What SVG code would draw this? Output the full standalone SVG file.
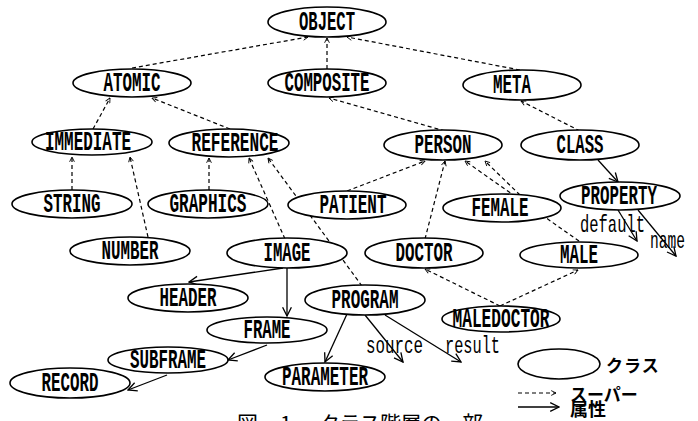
<svg xmlns="http://www.w3.org/2000/svg" width="698" height="421" viewBox="0 0 698 421">
<style>
.n ellipse{fill:#fff;stroke:#000;stroke-width:1.6}
.n text{font-family:"Liberation Mono","DejaVu Sans Mono",monospace;font-size:27px;font-weight:bold;text-anchor:middle;fill:#000}
.lbl{font-family:"Liberation Mono","DejaVu Sans Mono",monospace;font-size:24px;fill:#000}
.sup{stroke:#000;stroke-width:1.2;stroke-dasharray:4 3;fill:none;marker-end:url(#ah)}
.att{stroke:#000;stroke-width:1.3;fill:none;marker-end:url(#as)}
.jp{font-family:"Noto Sans CJK JP",sans-serif;fill:#000}
</style>
<defs>
<marker id="ah" viewBox="0 0 10 10" refX="9" refY="5" markerWidth="6" markerHeight="6" orient="auto" markerUnits="userSpaceOnUse"><path d="M1,1 L9,5 L1,9" fill="none" stroke="#000" stroke-width="1.5"/></marker>
<marker id="as" viewBox="0 0 10 10" refX="9" refY="5" markerWidth="11" markerHeight="11" orient="auto" markerUnits="userSpaceOnUse"><path d="M1,1 L9,5 L1,9" fill="none" stroke="#000" stroke-width="1.2"/></marker>
</defs>
<g id="connectors">
<line class="sup" x1="132" y1="68" x2="308" y2="37"/>
<line class="sup" x1="327" y1="69" x2="327" y2="38"/>
<line class="sup" x1="520" y1="70" x2="347" y2="37"/>
<line class="sup" x1="93" y1="129" x2="110" y2="98"/>
<line class="sup" x1="230" y1="129" x2="152" y2="98"/>
<line class="sup" x1="445" y1="131" x2="329" y2="98"/>
<line class="sup" x1="580" y1="131" x2="521" y2="101"/>
<line class="sup" x1="72" y1="190" x2="72" y2="157"/>
<line class="sup" x1="148" y1="237" x2="130" y2="157"/>
<line class="sup" x1="209" y1="190" x2="209" y2="158"/>
<line class="sup" x1="285" y1="239" x2="249" y2="158"/>
<line class="sup" x1="362" y1="286" x2="268" y2="158"/>
<line class="sup" x1="347" y1="191" x2="425" y2="161"/>
<line class="sup" x1="425" y1="239" x2="445" y2="161"/>
<line class="sup" x1="520" y1="195" x2="485" y2="161"/>
<line class="sup" x1="579" y1="241" x2="465" y2="161"/>
<line class="sup" x1="500" y1="306" x2="425" y2="269"/>
<line class="sup" x1="500" y1="306" x2="578" y2="270"/>
<line class="att" x1="598" y1="160" x2="618" y2="182"/>
<line class="att" x1="618" y1="210" x2="637" y2="241"/>
<line class="att" x1="638" y1="210" x2="676" y2="256"/>
<line class="att" x1="283" y1="268" x2="189" y2="282"/>
<line class="att" x1="287" y1="268" x2="287" y2="316"/>
<line class="att" x1="267" y1="345" x2="228" y2="360"/>
<line class="att" x1="167" y1="375" x2="128" y2="390"/>
<line class="att" x1="347" y1="314" x2="325" y2="362"/>
<line class="att" x1="365" y1="315" x2="403" y2="362"/>
<line class="att" x1="385" y1="315" x2="461" y2="362"/>
</g>
<g id="OBJECT" class="n"><ellipse cx="327" cy="22" rx="59" ry="15"/><text x="327" y="30" textLength="56" lengthAdjust="spacingAndGlyphs">OBJECT</text></g>
<g id="ATOMIC" class="n"><ellipse cx="132" cy="83" rx="59" ry="14"/><text x="132" y="91" textLength="57" lengthAdjust="spacingAndGlyphs">ATOMIC</text></g>
<g id="COMPOSITE" class="n"><ellipse cx="327" cy="83" rx="59" ry="14"/><text x="327" y="91" textLength="85" lengthAdjust="spacingAndGlyphs">COMPOSITE</text></g>
<g id="META" class="n"><ellipse cx="522" cy="85" rx="59" ry="15"/><text x="512" y="93" textLength="38" lengthAdjust="spacingAndGlyphs">META</text></g>
<g id="IMMEDIATE" class="n"><ellipse cx="92" cy="142" rx="60" ry="13"/><text x="88" y="150" textLength="86" lengthAdjust="spacingAndGlyphs">IMMEDIATE</text></g>
<g id="REFERENCE" class="n"><ellipse cx="229" cy="143" rx="60" ry="14"/><text x="235" y="151" textLength="87" lengthAdjust="spacingAndGlyphs">REFERENCE</text></g>
<g id="PERSON" class="n"><ellipse cx="443" cy="145" rx="59" ry="15"/><text x="443" y="153" textLength="57" lengthAdjust="spacingAndGlyphs">PERSON</text></g>
<g id="CLASS" class="n"><ellipse cx="580" cy="145" rx="59" ry="15"/><text x="580" y="153" textLength="47" lengthAdjust="spacingAndGlyphs">CLASS</text></g>
<g id="STRING" class="n"><ellipse cx="72" cy="204" rx="60" ry="14"/><text x="72" y="212" textLength="57" lengthAdjust="spacingAndGlyphs">STRING</text></g>
<g id="GRAPHICS" class="n"><ellipse cx="208" cy="204" rx="60" ry="14"/><text x="208" y="212" textLength="77" lengthAdjust="spacingAndGlyphs">GRAPHICS</text></g>
<g id="PATIENT" class="n"><ellipse cx="347" cy="205" rx="59" ry="14"/><text x="353" y="213" textLength="67" lengthAdjust="spacingAndGlyphs">PATIENT</text></g>
<g id="FEMALE" class="n"><ellipse cx="502" cy="208" rx="59" ry="14"/><text x="500" y="216" textLength="57" lengthAdjust="spacingAndGlyphs">FEMALE</text></g>
<g id="PROPERTY" class="n"><ellipse cx="620" cy="196" rx="60" ry="14"/><text x="619" y="204" textLength="76" lengthAdjust="spacingAndGlyphs">PROPERTY</text></g>
<g id="NUMBER" class="n"><ellipse cx="130" cy="251" rx="60" ry="14"/><text x="130" y="259" textLength="57" lengthAdjust="spacingAndGlyphs">NUMBER</text></g>
<g id="IMAGE" class="n"><ellipse cx="287" cy="253" rx="60" ry="15"/><text x="287" y="261" textLength="47" lengthAdjust="spacingAndGlyphs">IMAGE</text></g>
<g id="DOCTOR" class="n"><ellipse cx="424" cy="253" rx="59" ry="15"/><text x="424" y="261" textLength="57" lengthAdjust="spacingAndGlyphs">DOCTOR</text></g>
<g id="MALE" class="n"><ellipse cx="579" cy="255" rx="59" ry="13"/><text x="579" y="263" textLength="38" lengthAdjust="spacingAndGlyphs">MALE</text></g>
<g id="HEADER" class="n"><ellipse cx="188" cy="298" rx="60" ry="14"/><text x="188" y="306" textLength="57" lengthAdjust="spacingAndGlyphs">HEADER</text></g>
<g id="PROGRAM" class="n"><ellipse cx="365" cy="300" rx="60" ry="15"/><text x="365" y="308" textLength="67" lengthAdjust="spacingAndGlyphs">PROGRAM</text></g>
<g id="MALEDOCTOR" class="n"><ellipse cx="501" cy="319" rx="59" ry="13"/><text x="501" y="327" textLength="97" lengthAdjust="spacingAndGlyphs">MALEDOCTOR</text></g>
<g id="FRAME" class="n"><ellipse cx="267" cy="330" rx="60" ry="13"/><text x="267" y="338" textLength="47" lengthAdjust="spacingAndGlyphs">FRAME</text></g>
<g id="SUBFRAME" class="n"><ellipse cx="168" cy="360" rx="60" ry="13"/><text x="168" y="368" textLength="76" lengthAdjust="spacingAndGlyphs">SUBFRAME</text></g>
<g id="PARAMETER" class="n"><ellipse cx="325" cy="377" rx="60" ry="14"/><text x="325" y="385" textLength="86" lengthAdjust="spacingAndGlyphs">PARAMETER</text></g>
<g id="RECORD" class="n"><ellipse cx="70" cy="383" rx="60" ry="15"/><text x="70" y="391" textLength="57" lengthAdjust="spacingAndGlyphs">RECORD</text></g>
<g id="labels">
<text class="lbl" x="580" y="232" textLength="65" lengthAdjust="spacingAndGlyphs">default</text>
<text class="lbl" x="650" y="248" textLength="35" lengthAdjust="spacingAndGlyphs">name</text>
<text class="lbl" x="366" y="353" textLength="57" lengthAdjust="spacingAndGlyphs">source</text>
<text class="lbl" x="445" y="353" textLength="55" lengthAdjust="spacingAndGlyphs">result</text>
</g>
<g id="legend">
<ellipse cx="559" cy="364" rx="41" ry="15" fill="#fff" stroke="#000" stroke-width="1.6"/>
<text class="jp" x="606" y="372" font-size="17" font-weight="bold" letter-spacing="1">クラス</text>
<line class="sup" x1="518" y1="393" x2="556" y2="393"/>
<line class="att" x1="518" y1="407" x2="559" y2="407"/>
<text class="jp" x="570" y="401" font-size="17" font-weight="bold">スーパー</text>
<text class="jp" x="570" y="416" font-size="18" font-weight="bold">属性</text>
</g>
<g id="caption" class="jp" font-size="21">
<text x="237" y="431">図</text>
<text x="280" y="431">1</text>
<text x="319" y="431" letter-spacing="-0.5">クラス階層の一部</text>
</g>
</svg>
